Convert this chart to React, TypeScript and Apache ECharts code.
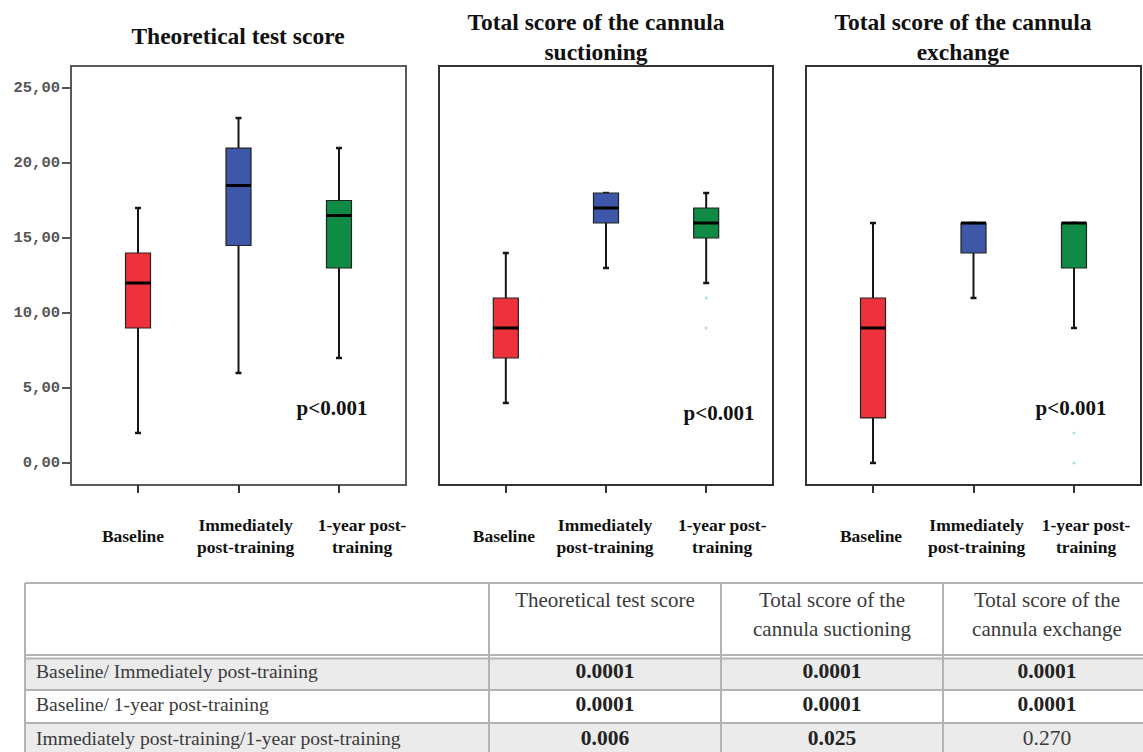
import React, { useEffect, useRef } from 'react';
import * as echarts from 'echarts';

// ---------- data ----------
const categoryLines = [['Baseline'], ['Immediately', 'post-training'], ['1-year post-', 'training']];
const panelTitles = ['Theoretical test score', 'Total score of the cannula\nsuctioning', 'Total score of the cannula\nexchange'];
// [position, min, Q1, median, Q3, max]
const theoreticalBoxes = [
  [1, 2, 9, 12, 14, 17],
  [2, 6, 14.5, 18.5, 21, 23],
  [3, 7, 13, 16.5, 17.5, 21],
];
const suctioningBoxes = [
  [1, 4, 7, 9, 11, 14],
  [2, 13, 16, 17, 18, 18],
  [3, 12, 15, 16, 17, 18],
];
const exchangeBoxes = [
  [1, 0, 3, 9, 11, 16],
  [2, 11, 14, 16, 16, 16],
  [3, 9, 13, 16, 16, 16],
];
const suctioningOutliers = [[3, 11], [3, 9]];
const exchangeOutliers = [[3, 2], [3, 0]];
const yTicks = [0, 5, 10, 15, 20, 25];
const xTicks = [1, 2, 3];
// category label anchor positions (labels are set slightly off their ticks, as in the source)
const labelAnchors = [
  [0.95, 2.07, 3.23],
  [0.98, 1.99, 3.16],
  [0.98, 2.03, 3.12],
];
const pLabels = ['p<0.001', 'p<0.001', 'p<0.001'];

const tableHeaders = ['Theoretical test score', 'Total score of the\ncannula suctioning', 'Total score of the\ncannula exchange'];
const comparisons = [
  'Baseline/ Immediately post-training',
  'Baseline/ 1-year post-training',
  'Immediately post-training/1-year post-training',
];
const pTheoretical = ['0.0001', '0.0001', '0.006'];
const pSuctioning = ['0.0001', '0.0001', '0.025'];
const pExchange = ['0.0001', '0.0001', '0.270'];

// ---------- styling ----------
const SERIF = 'Liberation Serif';
const boxColors = ['#ee323d', '#3e58a9', '#0f8b46'];
const grids = [
  { left: 71, top: 66, width: 335, height: 419 },
  { left: 439, top: 66, width: 334, height: 419 },
  { left: 806, top: 66, width: 335, height: 419 },
];
const frameColors = ['#5a5a5a', '#333', '#333'];
const titlePos = [[238, 36], [596, 37], [963, 37]];
const pPos = [[332, 408], [719, 413], [1071, 408]];

function boxRender(params: any, api: any) {
  const x = api.value(0);
  const mn = api.coord([x, api.value(1)]);
  const q1 = api.coord([x, api.value(2)])[1];
  const md = api.coord([x, api.value(3)])[1];
  const q3 = api.coord([x, api.value(4)])[1];
  const mx = api.coord([x, api.value(5)])[1];
  const xc = mn[0];
  const yMin = mn[1];
  const hw = 12.5;
  const cap = 3;
  const stroke = '#151515';
  return {
    type: 'group',
    children: [
      { type: 'line', shape: { x1: xc, y1: mx, x2: xc, y2: q3 }, style: { stroke, lineWidth: 2 } },
      { type: 'line', shape: { x1: xc, y1: q1, x2: xc, y2: yMin }, style: { stroke, lineWidth: 2 } },
      { type: 'line', shape: { x1: xc - cap, y1: mx, x2: xc + cap, y2: mx }, style: { stroke, lineWidth: 2.5 } },
      { type: 'line', shape: { x1: xc - cap, y1: yMin, x2: xc + cap, y2: yMin }, style: { stroke, lineWidth: 2.5 } },
      {
        type: 'rect',
        shape: { x: xc - hw, y: q3, width: hw * 2, height: q1 - q3 },
        style: { fill: boxColors[params.dataIndex], stroke: '#222', lineWidth: 1.2 },
      },
      { type: 'line', shape: { x1: xc - hw, y1: md, x2: xc + hw, y2: md }, style: { stroke: '#000', lineWidth: 3 } },
    ],
  };
}

function textEl(text: string, x: number, y: number, opts: any = {}) {
  const align = opts.align || 'center';
  const va = opts.verticalAlign || 'middle';
  return {
    type: 'text',
    x,
    y,
    silent: true,
    style: {
      text,
      fontFamily: SERIF,
      fontSize: opts.fontSize || 20,
      fontWeight: opts.fontWeight || 'normal',
      fill: opts.fill || '#333',
      lineHeight: opts.lineHeight,
      align,
      verticalAlign: va,
      textAlign: align,
      textVerticalAlign: va,
    },
  };
}

export default function App() {
  const ref = useRef<HTMLDivElement>(null);

  useEffect(() => {
    if (!ref.current) return;
    const chart = echarts.init(ref.current, null, { renderer: 'svg' });

    const xAxes: any[] = [];
    grids.forEach((_, i) => {
      xAxes.push({
        gridIndex: i,
        type: 'value',
        min: 0.333,
        max: 3.667,
        splitLine: { show: false },
        axisLine: { show: false, onZero: false },
        axisTick: { show: true, customValues: xTicks, length: 8, lineStyle: { color: '#333', width: 2 } },
        axisLabel: {
          show: true,
          customValues: labelAnchors[i],
          hideOverlap: false,
          margin: 51,
          verticalAlign: 'middle',
          fontFamily: SERIF,
          fontWeight: 'bold',
          fontSize: 17.5,
          lineHeight: 22,
          color: '#111',
          formatter: (v: number) => categoryLines[Math.round(v) - 1].join('\n'),
        },
      });
    });

    const yAxes = grids.map((_, i) => ({
      gridIndex: i,
      type: 'value',
      min: -1.47,
      max: 26.47,
      splitLine: { show: false },
      axisLine: { show: false, onZero: false },
      axisTick: {
        show: i === 0,
        customValues: yTicks,
        length: 9,
        lineStyle: { color: '#555', width: 2 },
      },
      axisLabel: {
        show: i === 0,
        customValues: yTicks,
        margin: 11,
        fontFamily: 'Liberation Mono',
        fontSize: 15.5,
        fontWeight: 'bold',
        color: '#555',
        formatter: (v: number) => v.toFixed(2).replace('.', ','),
      },
    }));

    const boxSets = [theoreticalBoxes, suctioningBoxes, exchangeBoxes];
    const series: any[] = boxSets.map((data, i) => ({
      type: 'custom',
      name: 'box' + i,
      xAxisIndex: i,
      yAxisIndex: i,
      renderItem: boxRender,
      encode: { x: 0, y: [1, 2, 3, 4, 5] },
      data,
      clip: false,
    }));
    series.push({
      type: 'scatter',
      xAxisIndex: 1,
      yAxisIndex: 1,
      symbol: 'circle',
      symbolSize: 3,
      itemStyle: { color: '#9fd6c9' },
      data: suctioningOutliers,
    });
    series.push({
      type: 'scatter',
      xAxisIndex: 2,
      yAxisIndex: 2,
      symbol: 'circle',
      symbolSize: 3,
      itemStyle: { color: '#9fd6c9' },
      data: exchangeOutliers,
    });

    const colX = [25, 489, 721, 943, 1151];
    const rowTop = [658, 690, 723];
    const rowBottom = [690, 723, 760];
    const rowCenters = [671, 704, 738];
    const lineColor = '#b3b3b3';
    const graphics: any[] = [];

    panelTitles.forEach((t, i) => {
      graphics.push(
        textEl(t, titlePos[i][0], titlePos[i][1], {
          fontSize: 23.5,
          fontWeight: 'bold',
          fill: '#111',
          lineHeight: 30,
        })
      );
    });
    pLabels.forEach((p, i) => {
      graphics.push(textEl(p, pPos[i][0], pPos[i][1], { fontSize: 21, fontWeight: 'bold', fill: '#111' }));
    });

    rowTop.forEach((top, r) => {
      graphics.push({
        type: 'rect',
        silent: true,
        shape: { x: colX[0], y: top, width: colX[4] - colX[0], height: rowBottom[r] - top },
        style: { fill: r % 2 === 0 ? '#ebebeb' : '#ffffff' },
      });
    });
    const hLines = [583, 655, 658.5, 690, 723];
    hLines.forEach((y) => {
      graphics.push({
        type: 'line',
        silent: true,
        shape: { x1: colX[0], y1: y, x2: colX[4], y2: y },
        style: { stroke: lineColor, lineWidth: 2 },
      });
    });
    colX.forEach((x) => {
      graphics.push({
        type: 'line',
        silent: true,
        shape: { x1: x, y1: 583, x2: x, y2: 760 },
        style: { stroke: lineColor, lineWidth: 2 },
      });
    });
    tableHeaders.forEach((h, c) => {
      graphics.push(
        textEl(h, (colX[c + 1] + colX[c + 2]) / 2, 585, {
          verticalAlign: 'top',
          lineHeight: 29,
          fontSize: 21,
          fill: '#3a3a3a',
        })
      );
    });
    const pCols = [pTheoretical, pSuctioning, pExchange];
    comparisons.forEach((label, r) => {
      graphics.push(textEl(label, 36, rowCenters[r], { align: 'left', fontSize: 19.6, fill: '#3a3a3a' }));
      pCols.forEach((col, c) => {
        const sig = parseFloat(col[r]) < 0.05;
        graphics.push(
          textEl(col[r], (colX[c + 1] + colX[c + 2]) / 2, rowCenters[r], {
            fontSize: 21.5,
            fontWeight: sig ? 'bold' : 'normal',
            fill: sig ? '#222' : '#3a3a3a',
          })
        );
      });
    });

    chart.setOption({
      animation: false,
      backgroundColor: '#ffffff',
      grid: grids.map((g, i) => ({
        ...g,
        show: true,
        borderColor: frameColors[i],
        borderWidth: 2,
        backgroundColor: 'transparent',
        containLabel: false,
      })),
      xAxis: xAxes,
      yAxis: yAxes,
      series,
      graphic: { elements: graphics },
    });

    return () => chart.dispose();
  }, []);

  return (
    <div
      ref={ref}
      style={{ position: 'fixed', left: 0, top: 0, width: 1143, height: 752, background: '#fff' }}
    />
  );
}
